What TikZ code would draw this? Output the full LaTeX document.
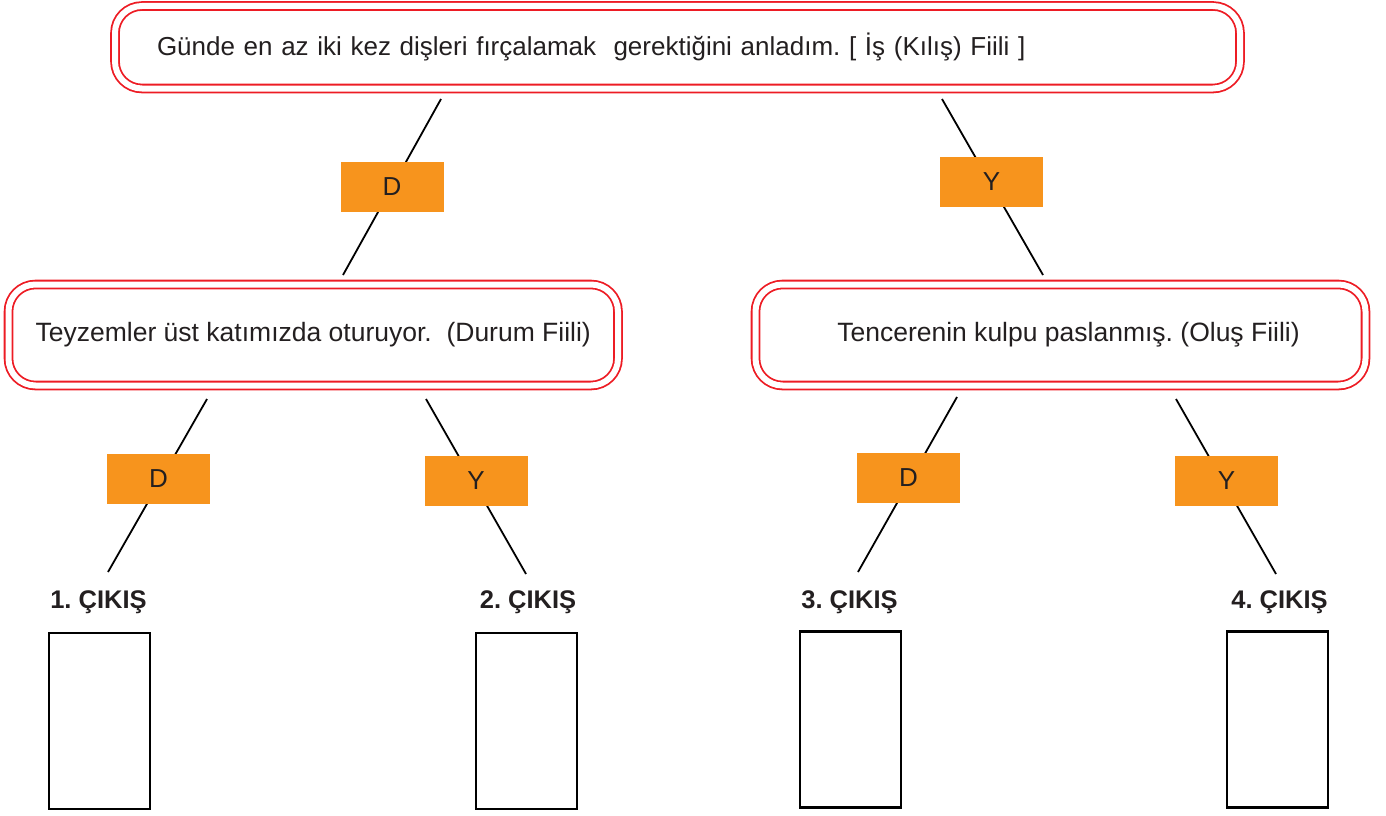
\documentclass[tikz,border=0pt]{standalone}
\usepackage{fontspec}
\setmainfont{Liberation Sans}
\definecolor{boxred}{HTML}{ED1C24}
\definecolor{tagorange}{HTML}{F7941D}
\definecolor{ink}{HTML}{231F20}
\frenchspacing
\begin{document}
\begin{tikzpicture}[x=1pt,y=-1pt,
  dbox/.style={draw=boxred, line width=1.8pt, double=white, double distance=6pt,
     rounded corners=27pt, text=ink, font=\fontsize{26.5}{30}\selectfont},
  tag/.style={fill=tagorange, minimum width=103pt, minimum height=50pt, inner sep=0pt,
     text=ink, font=\fontsize{26}{30}\selectfont},
  outbox/.style={draw=black, line width=2.6pt, minimum width=101pt, minimum height=176pt, inner sep=0pt},
  outlabel/.style={text=ink, font=\bfseries\fontsize{25.5}{29}\selectfont, inner sep=0pt},
  link/.style={draw=black, line width=1.8pt}
]
\useasboundingbox (0,0) rectangle (1386,816);
% main boxes
\node[dbox, font=\fontsize{26}{30}\selectfont, minimum width=1125pt, minimum height=82.5pt,
      inner xsep=42pt, inner ysep=0pt, text width=1041pt, align=left] (top) at (677.5,47.25)
  {Günde en az iki kez dişleri fırçalamak \ gerektiğini anladım. [ İş (Kılış) Fiili ]};
\node[dbox, minimum width=609.5pt, minimum height=101pt] (midl) at (313.25,335)
  {Teyzemler üst katımızda oturuyor. \ (Durum Fiili)};
\node[dbox, minimum width=610pt, minimum height=101pt] (midr) at (1060.5,335)
  {\hspace*{16pt}Tencerenin kulpu paslanmış. (Oluş Fiili)};
% connector end points
\coordinate (a1) at (441,99);  \coordinate (a2) at (343,275);
\coordinate (b1) at (942,99);  \coordinate (b2) at (1043,275);
\coordinate (c1) at (207,399); \coordinate (c2) at (108,572);
\coordinate (d1) at (426,399); \coordinate (d2) at (526,574);
\coordinate (e1) at (957,397); \coordinate (e2) at (858,572);
\coordinate (f1) at (1176,399);\coordinate (f2) at (1276,574);
\draw[link] (a1) -- (a2);
\draw[link] (b1) -- (b2);
\draw[link] (c1) -- (c2);
\draw[link] (d1) -- (d2);
\draw[link] (e1) -- (e2);
\draw[link] (f1) -- (f2);
% tags
\node[tag] (tagA) at (392,187) {D};
\node[tag] (tagB) at (991.5,182) {Y};
\node[tag] (tagC) at (158.5,478.5) {D};
\node[tag] (tagD) at (476,481) {Y};
\node[tag] (tagE) at (908.5,477.5) {D};
\node[tag] (tagF) at (1226.5,480.5) {Y};
% outputs
\node[outlabel] (l1) at (98.5,602) {1. ÇIKIŞ};
\node[outlabel] (l2) at (528,602) {2. ÇIKIŞ};
\node[outlabel] (l3) at (849.5,602) {3. ÇIKIŞ};
\node[outlabel] (l4) at (1279.5,602) {4. ÇIKIŞ};
\node[outbox] (o1) at (99.5,721) {};
\node[outbox] (o2) at (526.5,721) {};
\node[outbox] (o3) at (850.5,719.5) {};
\node[outbox] (o4) at (1277.5,719.5) {};
\end{tikzpicture}
\end{document}
